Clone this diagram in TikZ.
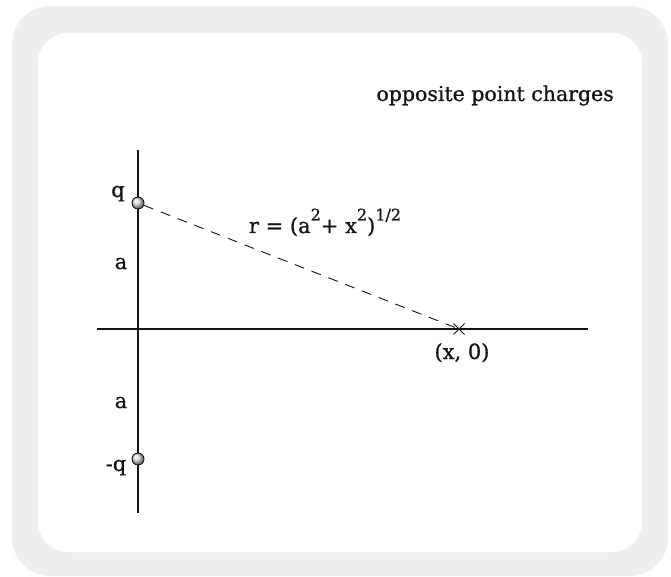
\documentclass[tikz,border=0pt]{standalone}
\usepackage{fontspec}
\setmainfont{DejaVu Serif}[FakeBold=0.8]
\usetikzlibrary{shapes.misc}
\definecolor{ink}{RGB}{20,20,20}
\definecolor{frame}{RGB}{238,238,238}
\definecolor{charge}{RGB}{225,225,225}
\newcommand\upidx[1]{\raisebox{1.15ex}{\fontsize{16}{16}\selectfont #1}}
\tikzset{
  every picture/.style={color=ink, x=1pt, y=-1pt},
  axis/.style={line width=1.3pt},
  pcharge/.style={circle, draw=ink, line width=0.9pt, minimum size=12pt, inner sep=0pt, shading=ball, ball color=charge},
  field/.style={cross out, draw=ink, line width=1pt, minimum size=10pt, inner sep=0pt},
  link/.style={dashed, dash pattern=on 10pt off 8pt, line width=0.9pt},
  lbl/.style={font=\fontsize{21}{24}\selectfont, inner sep=0pt, anchor=base},
  title/.style={font=\fontsize{20.5}{24}\selectfont, inner sep=0pt, anchor=base east},
}

\begin{document}
\begin{tikzpicture}
  \useasboundingbox (0,0) rectangle (671,577);
  % card with grey border
  \fill[frame, rounded corners=38pt] (12,6) rectangle (668,576);
  \fill[white, rounded corners=30pt] (38,33) rectangle (642,552);
  \node[title] (head) at (614,101) {opposite point charges};
  % axes
  \coordinate (ytop) at (138,150);
  \coordinate (ybot) at (138,513);
  \coordinate (xleft) at (97,329);
  \coordinate (xright) at (588,329);
  \draw[axis] (ytop) -- (ybot);
  \draw[axis] (xleft) -- (xright);
  % charges and field point
  \node[pcharge] (qp) at (138,203) {};
  \node[pcharge] (qm) at (138,459) {};
  \node[field] (pt) at (459,329) {};
  \draw[link] (qp) -- (pt.center);
  \node[lbl] (qplbl) at (118,197) {q};
  \node[lbl] (qmlbl) at (116,471) {-q};
  \node[lbl] (aup) at (121,269) {a};
  \node[lbl] (adown) at (121,408) {a};
  \node[lbl] (ptlbl) at (462,359) {(x, 0)};
  \node[lbl] (rlbl) at (325,233) {r = (a\upidx{2}+ x\upidx{2})\upidx{1/2}};
\end{tikzpicture}
\end{document}
